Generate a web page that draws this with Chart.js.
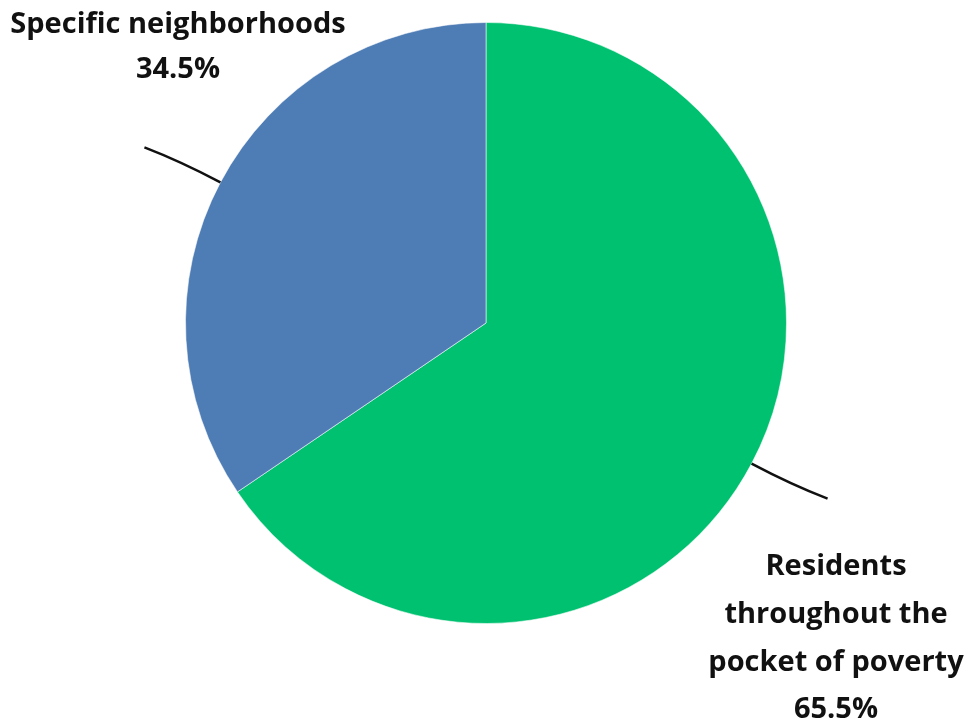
<!DOCTYPE html>
<html>
<head>
<meta charset="utf-8">
<script src="https://cdn.jsdelivr.net/npm/chart.js@4.4.1/dist/chart.umd.min.js"></script>
<style>
  html, body { margin: 0; padding: 0; background: #fff; }
  #wrap { width: 973px; height: 726px; position: relative; }
</style>
</head>
<body>
<div id="wrap"><canvas id="pie"></canvas></div>
<script>
"use strict";

// data
const categories = ['Residents throughout the pocket of poverty', 'Specific neighborhoods'];
const shares = [65.5, 34.5];
const labelLines = [
  ['Residents', 'throughout the', 'pocket of poverty'],
  ['Specific neighborhoods']
];
const sliceColors = ['#00C170', '#4E7CB5'];

// leader line + label placement (per slice)
const callouts = [
  { dx: 76, dy: 35, textX: 836, textY: 567, lineH: 47.7 },
  { dx: -76, dy: -35, textX: 178, textY: 25, lineH: 45 }
];

const calloutPlugin = {
  id: 'callouts',
  afterDatasetsDraw(chart) {
    const ctx = chart.ctx;
    const meta = chart.getDatasetMeta(0);
    meta.data.forEach(function (arc, i) {
      const p = arc.getProps(['x', 'y', 'startAngle', 'endAngle', 'outerRadius'], true);
      const mid = (p.startAngle + p.endAngle) / 2;
      const sx = p.x + Math.cos(mid) * p.outerRadius;
      const sy = p.y + Math.sin(mid) * p.outerRadius;
      const c = callouts[i];
      const ex = sx + c.dx, ey = sy + c.dy;
      const cx = sx + Math.cos(mid) * 45, cy = sy + Math.sin(mid) * 45;
      ctx.save();
      ctx.strokeStyle = '#111';
      ctx.lineWidth = 2.5;
      ctx.beginPath();
      ctx.moveTo(sx, sy);
      ctx.quadraticCurveTo(cx, cy, ex, ey);
      ctx.stroke();

      ctx.fillStyle = '#111';
      ctx.font = 'bold 29px "Open Sans"';
      ctx.textAlign = 'center';
      ctx.textBaseline = 'middle';
      const lines = labelLines[i].concat([shares[i].toFixed(1) + '%']);
      lines.forEach(function (t, k) {
        ctx.fillText(t, c.textX, c.textY + k * c.lineH);
      });
      ctx.restore();
    });
  }
};

const el = document.getElementById('pie');
new Chart(el, {
  type: 'pie',
  data: {
    labels: categories,
    datasets: [{
      data: shares,
      backgroundColor: sliceColors,
      borderColor: 'rgba(255,255,255,0.55)',
      borderWidth: 1
    }]
  },
  options: {
    responsive: true,
    maintainAspectRatio: false,
    animation: false,
    layout: { padding: { top: 22, bottom: 102, left: 185, right: 186 } },
    plugins: {
      legend: { display: false },
      tooltip: { enabled: false }
    }
  },
  plugins: [calloutPlugin]
});
</script>
</body>
</html>
